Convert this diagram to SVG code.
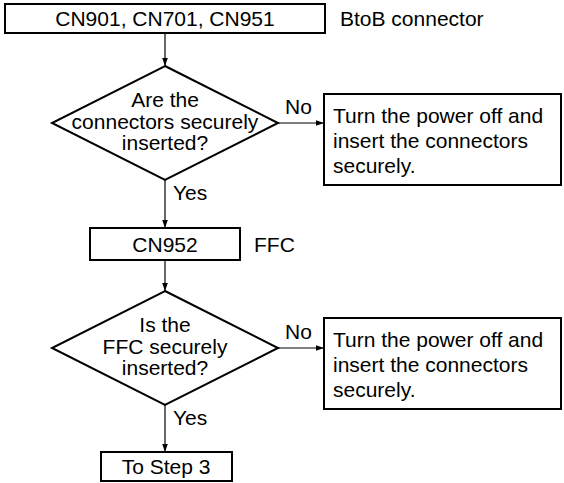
<svg xmlns="http://www.w3.org/2000/svg" width="564" height="483" viewBox="0 0 564 483">
<style>
.box{fill:#fff;stroke:#000;stroke-width:2}
.t{font-family:"Liberation Sans",Arial,Helvetica,sans-serif;font-size:21px;fill:#000}
.c{text-anchor:middle}
.ln{stroke:#000;stroke-width:1.2;fill:none}
</style>
<defs>
<marker id="ah" viewBox="0 0 10 10" refX="10" refY="5" markerWidth="8" markerHeight="8" markerUnits="userSpaceOnUse" orient="auto">
<path d="M0,1.5 L10,5 L0,8.5 Z" fill="#000"/>
</marker>
</defs>
<rect width="564" height="483" fill="#fff"/>
<g id="connectors">
<line class="ln" x1="165" y1="34" x2="165" y2="66" marker-end="url(#ah)"/>
<line class="ln" x1="278" y1="123" x2="324" y2="123" marker-end="url(#ah)"/>
<line class="ln" x1="165" y1="180" x2="165" y2="228" marker-end="url(#ah)"/>
<line class="ln" x1="165" y1="260" x2="165" y2="291" marker-end="url(#ah)"/>
<line class="ln" x1="278" y1="348" x2="324" y2="348" marker-end="url(#ah)"/>
<line class="ln" x1="165" y1="405" x2="165" y2="452" marker-end="url(#ah)"/>
<text class="t" x="285" y="114">No</text>
<text class="t" x="173" y="200">Yes</text>
<text class="t" x="285" y="339">No</text>
<text class="t" x="173" y="425">Yes</text>
</g>
<g id="n1">
<rect class="box" x="5" y="4" width="320" height="29"/>
<text class="t c" x="165" y="26">CN901, CN701, CN951</text>
</g>
<g id="n1label">
<text class="t" x="340" y="26">BtoB connector</text>
</g>
<g id="d1">
<polygon class="box" points="165,66 278,123 165,180 52,123"/>
<text class="t c" x="165" y="107">Are the</text>
<text class="t c" x="165" y="129">connectors securely</text>
<text class="t c" x="165" y="150">inserted?</text>
</g>
<g id="r1">
<rect class="box" x="324" y="94" width="237" height="91"/>
<text class="t" x="333" y="123">Turn the power off and</text>
<text class="t" x="333" y="148">insert the connectors</text>
<text class="t" x="333" y="173">securely.</text>
</g>
<g id="n2">
<rect class="box" x="90" y="228" width="150" height="32"/>
<text class="t c" x="165" y="252">CN952</text>
</g>
<g id="n2label">
<text class="t" x="254" y="252">FFC</text>
</g>
<g id="d2">
<polygon class="box" points="165,291 278,348 165,405 52,348"/>
<text class="t c" x="165" y="332">Is the</text>
<text class="t c" x="165" y="354">FFC securely</text>
<text class="t c" x="165" y="375">inserted?</text>
</g>
<g id="r2">
<rect class="box" x="324" y="318" width="237" height="91"/>
<text class="t" x="333" y="347">Turn the power off and</text>
<text class="t" x="333" y="372">insert the connectors</text>
<text class="t" x="333" y="397">securely.</text>
</g>
<g id="n3">
<rect class="box" x="101" y="452" width="131" height="29"/>
<text class="t c" x="166" y="474">To Step 3</text>
</g>
</svg>
